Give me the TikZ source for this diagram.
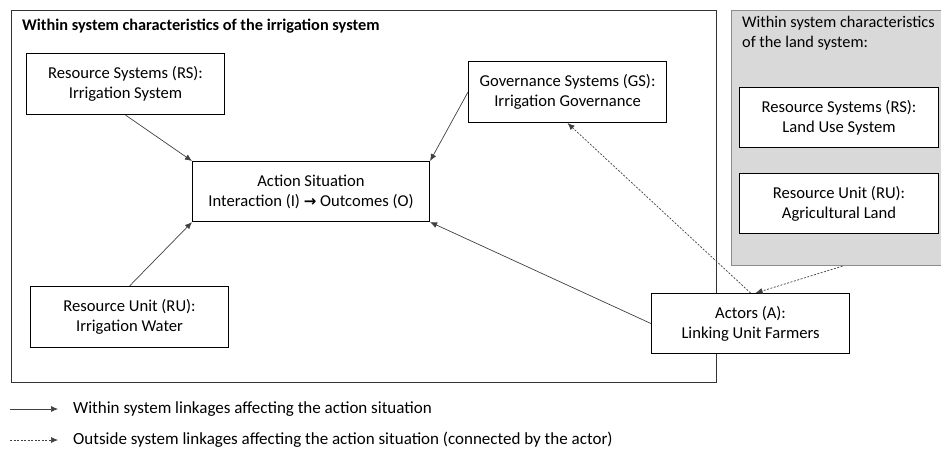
\documentclass[tikz,border=0pt]{standalone}
\usepackage{fontspec}
\setmainfont{Carlito}
\newfontfamily\symfont{DejaVu Sans}
\usepackage{tikz}
\usetikzlibrary{shapes,positioning,calc}
\usetikzlibrary{arrows.meta}
\colorlet{panelgray}{gray!30}
\tikzstyle{link} = [draw=black!75, line width=0.7pt, -{Latex[length=7pt,width=6pt]}]
\tikzstyle{outlink} = [link, dash pattern=on 2pt off 1.5pt]

\begin{document}
\begin{tikzpicture}[x=1pt, y=-1pt, box/.style={rectangle, draw, line width=1.1pt, fill=white, align=center, minimum width=198pt, minimum height=61pt, anchor=north west}, every node/.style={font=\fontsize{16.6}{20}\selectfont}, bigtext/.style={font=\fontsize{17}{20}\selectfont}]
			\useasboundingbox (0,0) rectangle (941,456);
			
			% FRAMES
			
			\node [draw=black!80, line width=1.1pt, minimum width=705pt, minimum height=372pt, anchor=north west, inner sep=0pt] (irrframe) at (11,10) {};
			\node [anchor=west, inner sep=0pt, font=\fontsize{16.3}{20}\selectfont\bfseries] (irrtitle) at (22,26) {Within system characteristics of the irrigation system};
			
			\node [draw=black!45, fill=panelgray, line width=1.1pt, minimum width=214pt, minimum height=255pt, anchor=north west, inner sep=0pt] (landframe) at (731,10) {};
			\node [anchor=north west, inner sep=0pt, align=left, font=\fontsize{16.3}{19.5}\selectfont] (landtitle) at (742,16) {Within system characteristics\\of the land system:};
			
			% IRRIGATION SYSTEM
			
			\node [box] (rsirr) at (26,53) {Resource Systems (RS):\\Irrigation System};
			\node [box, minimum width=237pt, minimum height=60pt] (actsit) at (192,161) {Action Situation\\Interaction (I) {\symfont\fontsize{15}{20}\selectfont\bfseries →} Outcomes (O)};
			\node [box] (gsirr) at (468,61) {Governance Systems (GS):\\Irrigation Governance};
			\node [box] (ruirr) at (30,286) {Resource Unit (RU):\\Irrigation Water};
			\node [box, minimum height=60pt] (actors) at (651,293) {Actors (A):\\Linking Unit Farmers};
			
			% LAND SYSTEM
			
			\node [box, minimum width=199pt, minimum height=60pt] (rsland) at (739,87) {Resource Systems (RS):\\Land Use System};
			\node [box, minimum width=199pt, minimum height=60pt] (ruland) at (739,173) {Resource Unit (RU):\\Agricultural Land};
			
			% LINKAGES
			
			\draw [link] (rsirr.south) -- (actsit.north west);
			\draw [link] (gsirr.west) -- (actsit.north east);
			\draw [link] (ruirr.north) -- (actsit.south west);
			\draw [link] (actors.west) -- (actsit.south east);
			\draw [outlink] (actors.north) -- (gsirr.south);
			\draw [outlink] ([xshift=4pt]landframe.south) -- ([xshift=5pt]actors.north);
			
			% LEGEND
			
			\coordinate (solidA) at (10,409);
			\coordinate (solidB) at (58,409);
			\coordinate (dashA) at (10,440);
			\coordinate (dashB) at (58,440);
			\draw [link] (solidA) -- (solidB);
			\draw [outlink] (dashA) -- (dashB);
			\node [bigtext, anchor=west, inner sep=0pt] (solidtext) at (73,409) {Within system linkages affecting the action situation};
			\node [bigtext, anchor=west, inner sep=0pt] (dashtext) at (73,440) {Outside system linkages affecting the action situation (connected by the actor)};
		
		\end{tikzpicture}
\end{document}
